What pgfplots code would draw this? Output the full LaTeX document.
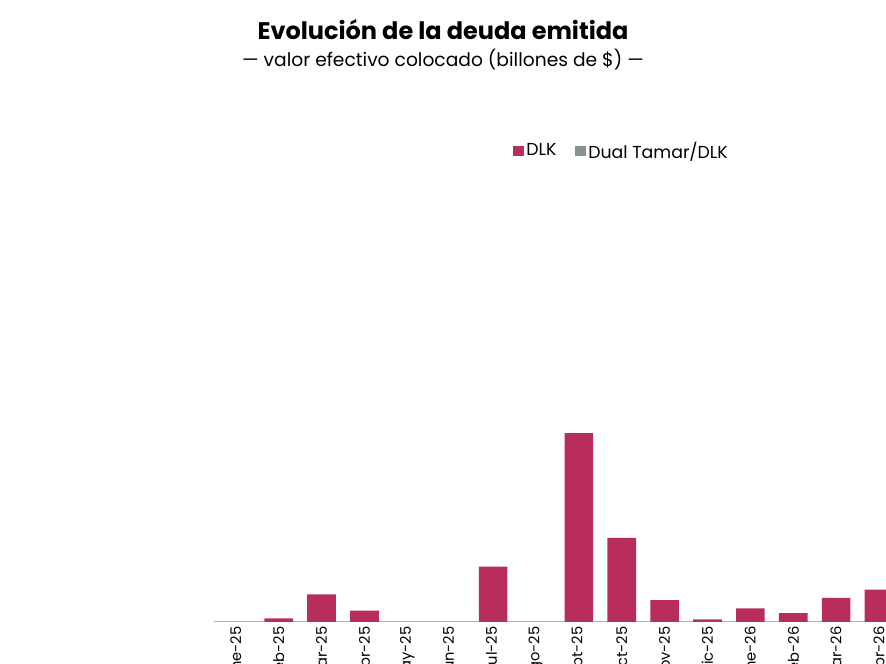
\documentclass[border=0pt]{standalone}
\usepackage{pgfplots}
\pgfplotsset{compat=1.18}
\usepackage{fontspec}
\setmainfont{Poppins}
\definecolor{dlk}{HTML}{B92D5D}
\definecolor{dual}{HTML}{87948A}
\begin{document}
\begin{tikzpicture}[x=0.75pt,y=0.75pt]
\path[use as bounding box] (0,0) rectangle (886,664);
\node[font=\bfseries\fontsize{18}{20}\selectfont] at (443,634) {Evolución de la deuda emitida};
\node[font=\fontsize{14}{16}\selectfont] at (443,604) {--- valor efectivo colocado (billones de \$) ---};
\begin{axis}[at={(50,88)}, anchor=south west, scale only axis,
  width=611pt, height=324pt,
  ybar stacked, bar width=21.5pt,
  xmin=-0.5, xmax=18.5, ymin=0, ymax=9,
  ytick={0,1,...,9},
  yticklabel style={/pgf/number format/.cd,use comma,fixed,fixed zerofill,precision=1},
  /pgf/number format/assume math mode=true,
  xtick={0,...,18},
  xticklabels={ene-25,feb-25,mar-25,abr-25,may-25,jun-25,jul-25,ago-25,sept-25,oct-25,nov-25,dic-25,ene-26,feb-26,mar-26,abr-26,may-26,jun-26,jul-26},
  xticklabel style={rotate=90,anchor=east,font=\fontsize{11}{12}\selectfont},
  yticklabel style={font=\fontsize{11}{12}\selectfont},
  axis y line=none, axis x line*=bottom, x axis line style={draw=gray!60, -},
  major tick length=0pt,
  axis line style={-},
  clip=false,
  legend style={at={(0.5,1.09)},anchor=center,draw=none,legend columns=-1,font=\fontsize{13}{14}\selectfont,/tikz/every even column/.append style={column sep=12pt}},
  legend image code/.code={\fill[#1] (0,-4pt) rectangle (8pt,4pt);},
]
\addplot[fill=dlk,draw=none] coordinates {(0,0) (1,0.07) (2,0.57) (3,0.23) (4,0) (5,0) (6,1.15) (7,0) (8,3.93) (9,1.75) (10,0.45) (11,0.05) (12,0.28) (13,0.18) (14,0.5) (15,0.67) (16,2.37) (17,2.41) (18,3.35)};
\addlegendentry{DLK}
\addplot[fill=dual,draw=none] coordinates {(0,0) (1,0) (2,0) (3,0) (4,0) (5,0) (6,0) (7,0) (8,0) (9,0) (10,0) (11,0) (12,0) (13,0) (14,0) (15,0) (16,0) (17,0) (18,4.70)};
\addlegendentry{Dual Tamar/DLK}
\addplot[draw=none,fill=none,forget plot, point meta=explicit symbolic,
  nodes near coords, nodes near coords style={font=\bfseries\fontsize{10}{12}\selectfont, anchor=south, yshift=8pt}]
 coordinates {(0,0)[0,0] (1,0)[0,1] (2,0)[0,6] (3,0)[0,2] (4,0)[0,0] (5,0)[0,0] (6,0)[1,2] (7,0)[0,0] (8,0)[3,9] (9,0)[1,8] (10,0)[0,5] (11,0)[0,1] (12,0)[0,3] (13,0)[0,2] (14,0)[0,5] (15,0)[0,7] (16,0)[2,4] (17,0)[2,4] (18,0)[8,1]};
\end{axis}
\end{tikzpicture}
\end{document}
